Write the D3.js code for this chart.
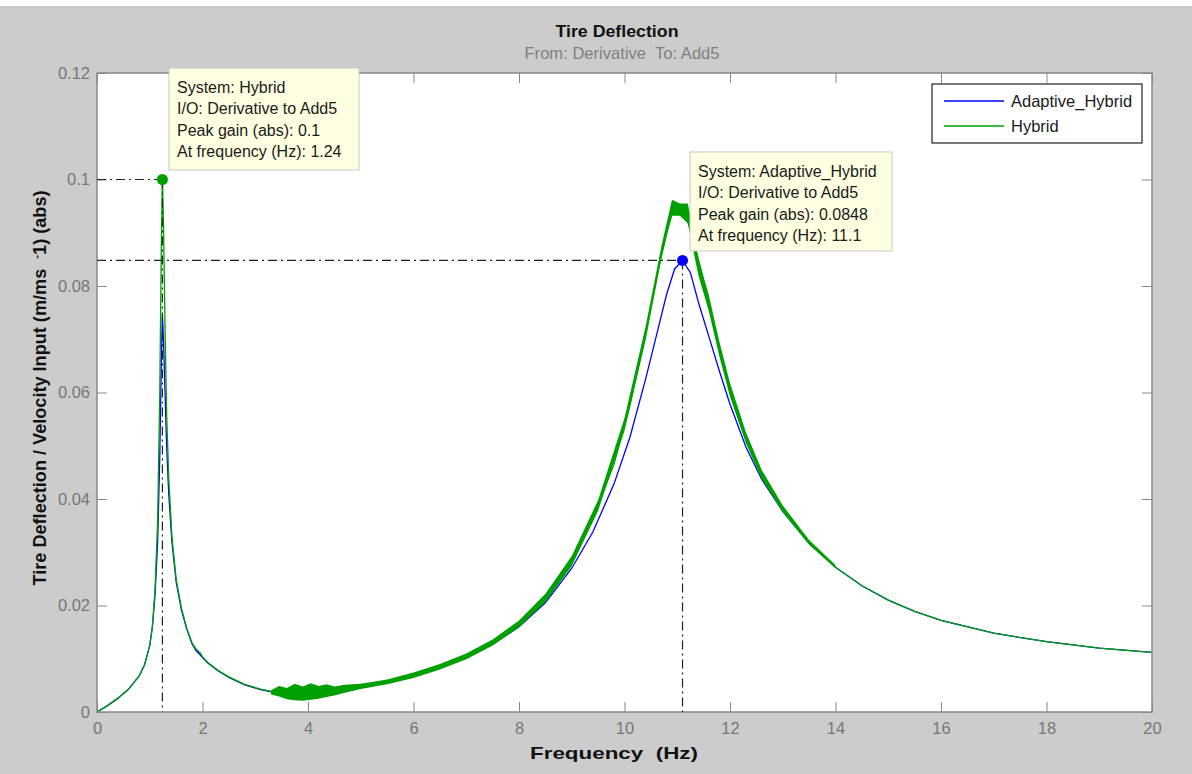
<!DOCTYPE html>
<html>
<head>
<script src="https://d3js.org/d3.v7.min.js"></script>
<style>
body { margin: 0; background: #fff; }
svg { display: block; font-family: "Liberation Sans", Arial, sans-serif; }
</style>
</head>
<body>
<svg width="1192" height="774"></svg>
<script>
// frequency response (Hz, abs gain)
var blueFreq = [0, 0.2, 0.4, 0.6, 0.8, 0.9, 1.0, 1.05, 1.1, 1.15, 1.19, 1.22, 1.24, 1.26, 1.29, 1.32, 1.36, 1.42, 1.5, 1.6, 1.7, 1.8, 1.88, 1.95, 2.0, 2.1, 2.3, 2.5, 2.8, 3.1, 3.4, 3.7, 4.0, 4.4, 4.8, 5.2, 5.6, 6.0, 6.5, 7.0, 7.5, 8.0, 8.5, 9.0, 9.4, 9.8, 10.1, 10.4, 10.6, 10.8, 10.95, 11.1, 11.25, 11.4, 11.6, 11.8, 12.0, 12.3, 12.6, 13.0, 13.5, 14.0, 14.5, 15.0, 15.5, 16.0, 17.0, 18.0, 19.0, 20.0];
var blueMag = [0, 0.0012, 0.0026, 0.0043, 0.0068, 0.0088, 0.0125, 0.016, 0.022, 0.032, 0.048, 0.066, 0.0745, 0.07, 0.06, 0.05, 0.041, 0.032, 0.0245, 0.0192, 0.0156, 0.0128, 0.0115, 0.0108, 0.0102, 0.0092, 0.0077, 0.0065, 0.0051, 0.0042, 0.0036, 0.0034, 0.0034, 0.0037, 0.0043, 0.005, 0.0058, 0.0068, 0.0083, 0.0102, 0.0127, 0.016, 0.0205, 0.027, 0.0338, 0.0428, 0.0515, 0.0625, 0.0705, 0.0785, 0.0832, 0.0848, 0.0825, 0.077, 0.0705, 0.064, 0.0578, 0.0498, 0.0437, 0.0377, 0.0317, 0.0272, 0.0237, 0.021, 0.0189, 0.0172, 0.0148, 0.0132, 0.012, 0.0112];

var greenFreq = [0, 0.2, 0.4, 0.6, 0.8, 0.9, 1.0, 1.05, 1.1, 1.15, 1.19, 1.22, 1.24, 1.26, 1.29, 1.32, 1.36, 1.42, 1.5, 1.6, 1.7, 1.8, 1.88, 1.95, 2.0, 2.1, 2.3, 2.5, 2.8, 3.1, 3.4, 3.7, 4.0, 4.4, 4.8, 5.2, 5.6, 6.0, 6.5, 7.0, 7.5, 8.0, 8.5, 9.0, 9.4, 9.8, 10.1, 10.4, 10.6, 10.8, 10.95, 11.05, 11.15, 11.3, 11.45, 11.6, 11.8, 12.0, 12.3, 12.6, 13.0, 13.5, 14.0, 14.5, 15.0, 15.5, 16.0, 17.0, 18.0, 19.0, 20.0];
var greenMag = [0, 0.0012, 0.0026, 0.0043, 0.0068, 0.0088, 0.0125, 0.016, 0.023, 0.036, 0.06, 0.088, 0.1003, 0.092, 0.072, 0.056, 0.044, 0.033, 0.025, 0.0195, 0.0158, 0.013, 0.0118, 0.0112, 0.0104, 0.0093, 0.0078, 0.0066, 0.0052, 0.0043, 0.0037, 0.0034, 0.0034, 0.0038, 0.0044, 0.0052, 0.006, 0.0071, 0.0087, 0.0106, 0.0132, 0.0167, 0.0215, 0.0285, 0.0362, 0.0465, 0.0575, 0.071, 0.081, 0.0905, 0.0948, 0.0945, 0.0935, 0.089, 0.083, 0.0765, 0.068, 0.0605, 0.0515, 0.0445, 0.038, 0.0318, 0.0272, 0.0237, 0.021, 0.0189, 0.0172, 0.0148, 0.0132, 0.012, 0.0112];

// ripple band of the Hybrid trace (lower / upper envelope)
var bandFreq = [3.3, 3.45, 3.6, 3.75, 3.9, 4.05, 4.2, 4.35, 4.5, 4.7, 5.0, 5.5, 6.0, 6.5, 7.0, 7.5, 8.0, 8.5, 9.0, 9.5, 10.0, 10.4, 10.7, 10.9, 11.05, 11.2, 11.4, 11.6, 11.8, 12.0, 12.3, 12.6, 13.0, 13.5, 14.0];
var bandLo = [0.0033, 0.0029, 0.0024, 0.0022, 0.0021, 0.0023, 0.0025, 0.0028, 0.0031, 0.0036, 0.0043, 0.0052, 0.0064, 0.008, 0.0099, 0.0125, 0.0159, 0.0206, 0.0274, 0.0378, 0.0528, 0.0698, 0.0852, 0.0932, 0.0932, 0.0918, 0.082, 0.0752, 0.0667, 0.0592, 0.0505, 0.0438, 0.0375, 0.0314, 0.027];
var bandHi = [0.0041, 0.0049, 0.0045, 0.0053, 0.0048, 0.0054, 0.0049, 0.0052, 0.0048, 0.0051, 0.0053, 0.0061, 0.0074, 0.009, 0.011, 0.0136, 0.0172, 0.0222, 0.0293, 0.0398, 0.0552, 0.0724, 0.0875, 0.0962, 0.0955, 0.0955, 0.0852, 0.0782, 0.0695, 0.0618, 0.0526, 0.0455, 0.0388, 0.0323, 0.0276];

var seriesNames = ["Adaptive_Hybrid", "Hybrid"];
var xTicks = [0, 2, 4, 6, 8, 10, 12, 14, 16, 18, 20];
var yTicks = [0, 0.02, 0.04, 0.06, 0.08, 0.1, 0.12];
var yTickLabels = ["0", "0.02", "0.04", "0.06", "0.08", "0.1", "0.12"];

// peaks marked by the data tips
var hybridPeak = {f: 1.24, g: 0.1};
var adaptivePeak = {f: 11.1, g: 0.0848};
var hybridTip = ["System: Hybrid", "I/O: Derivative to Add5", "Peak gain (abs): 0.1", "At frequency (Hz): 1.24"];
var adaptiveTip = ["System: Adaptive_Hybrid", "I/O: Derivative to Add5", "Peak gain (abs): 0.0848", "At frequency (Hz): 11.1"];

var svg = d3.select("svg");
var blueCol = "#0000ff", greenCol = "#00a000";

svg.append("rect").attr("x", 0).attr("y", 6).attr("width", 1192).attr("height", 768).attr("fill", "#cccccc");

var x = d3.scaleLinear().domain([0, 20]).range([97, 1152]);
var y = d3.scaleLinear().domain([0, 0.12]).range([712, 73]);

svg.append("rect").attr("x", 97).attr("y", 73).attr("width", 1055).attr("height", 639).attr("fill", "#fff");

svg.append("clipPath").attr("id", "clip")
  .append("rect").attr("x", 97).attr("y", 73).attr("width", 1055).attr("height", 639);

var plot = svg.append("g").attr("clip-path", "url(#clip)");

var line = d3.line().x(function(d){ return x(d[0]); }).y(function(d){ return y(d[1]); });

var blueData = blueFreq.map(function(f, i){ return [f, blueMag[i]]; });
var greenData = greenFreq.map(function(f, i){ return [f, greenMag[i]]; });
var bandData = bandFreq.map(function(f, i){ return [f, bandLo[i], bandHi[i]]; });

plot.append("path").datum(blueData).attr("d", line)
  .attr("fill", "none").attr("stroke", blueCol).attr("stroke-width", 1.3);

plot.append("path").datum(bandData)
  .attr("d", d3.area().x(function(d){ return x(d[0]); }).y0(function(d){ return y(d[1]); }).y1(function(d){ return y(d[2]); }))
  .attr("fill", greenCol);

plot.append("path").datum(greenData).attr("d", line)
  .attr("fill", "none").attr("stroke", greenCol).attr("stroke-width", 1.3);

// axes with inward ticks
function styleAxis(g) {
  g.select(".domain").remove();
  g.selectAll(".tick line").attr("stroke", "#888");
  g.selectAll(".tick text").attr("fill", "#777").style("font-size", "16.5px").style("font-family", "Liberation Sans, Arial, sans-serif");
}
svg.append("g").attr("transform", "translate(0,712)")
  .call(d3.axisBottom(x).tickValues(xTicks).tickSize(-10).tickPadding(10).tickFormat(d3.format("d")))
  .call(styleAxis);
svg.append("g").attr("transform", "translate(0,73)")
  .call(d3.axisTop(x).tickValues(xTicks).tickSize(-10).tickFormat(""))
  .call(styleAxis);
svg.append("g").attr("transform", "translate(97,0)")
  .call(d3.axisLeft(y).tickValues(yTicks).tickSize(-10).tickPadding(7).tickFormat(function(d, i){ return yTickLabels[i]; }))
  .call(styleAxis);
svg.append("g").attr("transform", "translate(1152,0)")
  .call(d3.axisRight(y).tickValues(yTicks).tickSize(-10).tickFormat(""))
  .call(styleAxis);

svg.append("rect").attr("x", 97).attr("y", 73).attr("width", 1055).attr("height", 639)
  .attr("fill", "none").attr("stroke", "#888").attr("stroke-width", 1.5);

// peak guide lines
var dash = "9,4,2,4";
function guide(p) {
  svg.append("line").attr("x1", x(0)).attr("x2", x(p.f)).attr("y1", y(p.g)).attr("y2", y(p.g))
    .attr("stroke", "#222").attr("stroke-width", 1.2).attr("stroke-dasharray", dash);
  svg.append("line").attr("x1", x(p.f)).attr("x2", x(p.f)).attr("y1", y(p.g)).attr("y2", y(0))
    .attr("stroke", "#222").attr("stroke-width", 1.2).attr("stroke-dasharray", dash);
}
guide(hybridPeak);
guide(adaptivePeak);

svg.append("circle").attr("cx", x(hybridPeak.f)).attr("cy", y(hybridPeak.g)).attr("r", 5.5).attr("fill", greenCol);
svg.append("circle").attr("cx", x(adaptivePeak.f)).attr("cy", y(adaptivePeak.g)).attr("r", 5.5).attr("fill", blueCol);

// data tips
function tip(lines, x0, y0, w, h) {
  var g = svg.append("g").attr("transform", "translate(" + x0 + "," + y0 + ")");
  g.append("rect").attr("width", w).attr("height", h).attr("fill", "#ffffe1").attr("stroke", "#c8c8c8");
  g.selectAll("text").data(lines).join("text")
    .attr("x", 8).attr("y", function(d, i){ return 25 + i * 21.3; })
    .attr("fill", "#1a1a1a").style("font-size", "16px").text(function(d){ return d; });
}
tip(hybridTip, 169, 68, 190, 102);
tip(adaptiveTip, 690, 152, 202, 99);

// legend
var leg = svg.append("g");
leg.append("rect").attr("x", 932).attr("y", 84).attr("width", 210).attr("height", 59)
  .attr("fill", "#fff").attr("stroke", "#222").attr("stroke-width", 1.2);
[blueCol, greenCol].forEach(function(c, i) {
  var yy = 101 + i * 25;
  leg.append("line").attr("x1", 944).attr("x2", 1004).attr("y1", yy).attr("y2", yy).attr("stroke", c).attr("stroke-width", 1.3);
  leg.append("text").attr("x", 1011).attr("y", yy + 6).style("font-size", "16.5px").attr("fill", "#1a1a1a").text(seriesNames[i]);
});

// titles
svg.append("text").attr("x", 617).attr("y", 37).attr("text-anchor", "middle")
  .style("font-size", "17px").style("font-weight", "bold").attr("fill", "#111")
  .attr("textLength", 123).attr("lengthAdjust", "spacingAndGlyphs").text("Tire Deflection");
svg.append("text").attr("x", 622).attr("y", 59).attr("text-anchor", "middle")
  .style("font-size", "16.5px").attr("fill", "#808080")
  .attr("textLength", 195).attr("lengthAdjust", "spacing").text("From: Derivative\u00a0 To: Add5");
svg.append("text").attr("x", 614).attr("y", 759).attr("text-anchor", "middle")
  .style("font-size", "17px").style("font-weight", "bold").attr("fill", "#111")
  .attr("textLength", 168).attr("lengthAdjust", "spacingAndGlyphs").text("Frequency\u00a0\u00a0(Hz)");

var yl = svg.append("text").attr("transform", "translate(46,388) rotate(-90)").attr("text-anchor", "middle")
  .style("font-size", "17.5px").style("font-weight", "bold").attr("fill", "#111")
  .attr("textLength", 395).attr("lengthAdjust", "spacingAndGlyphs");
yl.append("tspan").text("Tire Deflection / Velocity Input (m/ms\u00a0\u00a0");
yl.append("tspan").attr("dy", -6).style("font-size", "11px").text("-");
yl.append("tspan").attr("dy", 6).text("1) (abs)");
</script>
</body>
</html>
